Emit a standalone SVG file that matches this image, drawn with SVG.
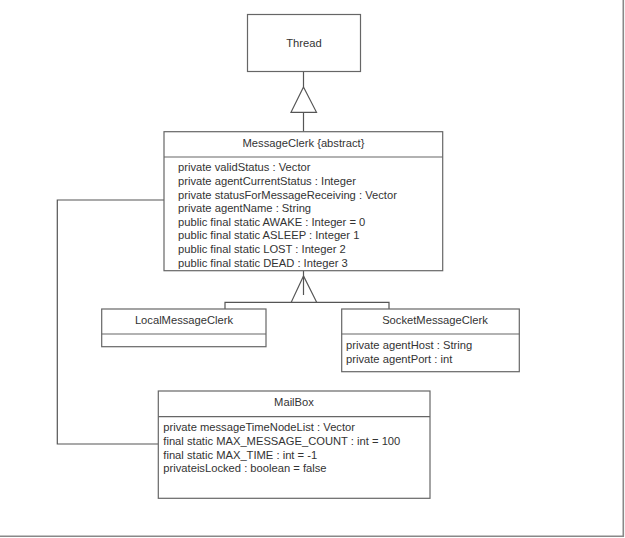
<svg xmlns="http://www.w3.org/2000/svg" width="625" height="538" viewBox="0 0 625 538">
<style>
.box{fill:#fff;stroke:#666;stroke-width:1.2}
.div{stroke:#666;stroke-width:1.2}
.t{font-family:"Liberation Sans",Arial,sans-serif;font-size:11.2px;fill:#333}
.c{text-anchor:middle}
.ln{fill:none;stroke:#555;stroke-width:1.2}
.tri{fill:#fff;stroke:#555;stroke-width:1.2}
</style>
<rect width="625" height="538" fill="#fff"/>
<path d="M623.3 0V536.3H0" fill="none" stroke="#888" stroke-width="1.6"/>
<g id="connectors">
<path class="ln" d="M303.5 71V87M303.5 112.3V131.7"/>
<polygon class="tri" points="303.5,87 291,112.3 316.5,112.3"/>
<path class="ln" d="M225 309V302.3H389V309"/>
<polygon class="tri" points="303.5,276 291.2,302.3 316.7,302.3"/>
<path class="ln" d="M303.5 270.6V295"/>
<path class="ln" d="M158.3 444H57.3V200H164"/>
</g>
<g id="Thread">
<rect class="box" x="247.5" y="14.5" width="113" height="57"/>
<text class="t c" x="304" y="47">Thread</text>
</g>
<g id="MessageClerk">
<rect class="box" x="164" y="131.7" width="278.7" height="139"/>
<line class="div" x1="164" y1="157" x2="442.7" y2="157"/>
<text class="t c" x="303.5" y="147">MessageClerk {abstract}</text>
<text class="t" x="178" y="171.3">private validStatus : Vector</text>
<text class="t" x="178" y="185">private agentCurrentStatus : Integer</text>
<text class="t" x="178" y="198.6">private statusForMessageReceiving : Vector</text>
<text class="t" x="178" y="212.2">private agentName : String</text>
<text class="t" x="178" y="225.8">public final static AWAKE : Integer = 0</text>
<text class="t" x="178" y="239.4">public final static ASLEEP : Integer 1</text>
<text class="t" x="178" y="253">public final static LOST : Integer 2</text>
<text class="t" x="178" y="266.6">public final static DEAD : Integer 3</text>
</g>
<g id="LocalMessageClerk">
<rect class="box" x="101.7" y="309" width="164.3" height="37.7"/>
<line class="div" x1="101.7" y1="334" x2="266" y2="334"/>
<text class="t c" x="184" y="324">LocalMessageClerk</text>
</g>
<g id="SocketMessageClerk">
<rect class="box" x="341.7" y="309" width="177.6" height="62.7"/>
<line class="div" x1="341.7" y1="334" x2="519.3" y2="334"/>
<text class="t c" x="435" y="324">SocketMessageClerk</text>
<text class="t" x="346" y="349">private agentHost : String</text>
<text class="t" x="346" y="362.6">private agentPort : int</text>
</g>
<g id="MailBox">
<rect class="box" x="158.3" y="391" width="271.7" height="107.3"/>
<line class="div" x1="158.3" y1="416.7" x2="430" y2="416.7"/>
<text class="t c" x="294" y="406.3">MailBox</text>
<text class="t" x="163.3" y="431.3">private messageTimeNodeList : Vector</text>
<text class="t" x="163.3" y="444.9">final static MAX_MESSAGE_COUNT : int = 100</text>
<text class="t" x="163.3" y="458.5">final static MAX_TIME : int = -1</text>
<text class="t" x="163.3" y="472.1">privateisLocked : boolean = false</text>
</g>
</svg>
